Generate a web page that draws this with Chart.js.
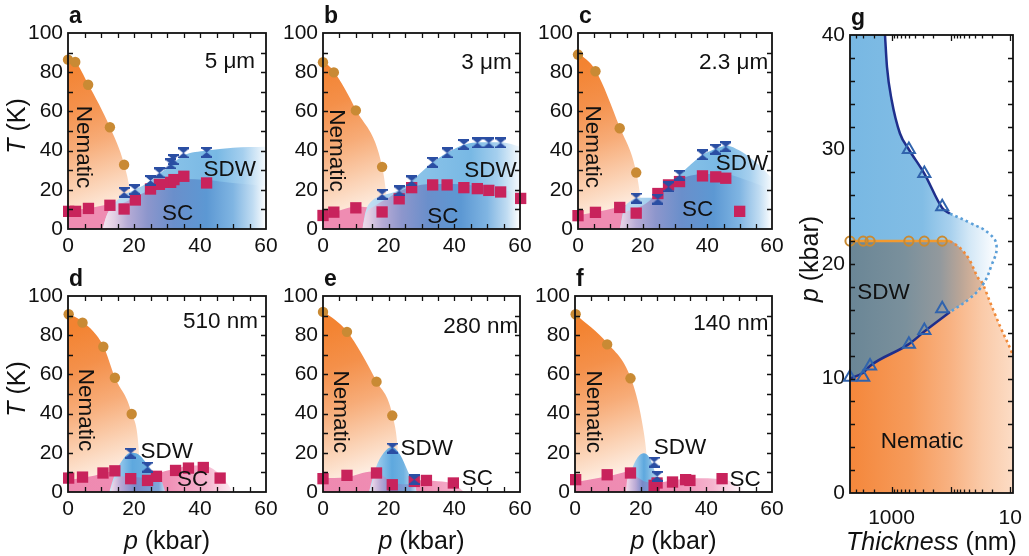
<!DOCTYPE html>
<html>
<head>
<meta charset="utf-8">
<title>Phase diagrams vs thickness</title>
<script src="https://cdn.jsdelivr.net/npm/chart.js@4.4.1/dist/chart.umd.min.js"></script>
<style>
  html, body { margin: 0; padding: 0; background: #fff; }
  body { position: relative; width: 1029px; height: 556px; overflow: hidden; }
  canvas { position: absolute; }
</style>
</head>
<body>
<canvas id="chartA"></canvas>
<canvas id="chartB"></canvas>
<canvas id="chartC"></canvas>
<canvas id="chartD"></canvas>
<canvas id="chartE"></canvas>
<canvas id="chartF"></canvas>
<canvas id="chartG"></canvas>
<script>
// ---------- data, [p (kbar), T (K)] ----------
// a: 5 um
const nemA = [[0, 86.4], [2.2, 85.2], [6.1, 73.6], [12.7, 51.9], [17.0, 32.8]];
const sdwA = [[17.0, 18.7], [20.3, 20.1], [25.0, 24.7], [27.7, 28.6], [31.1, 33.2], [31.9, 35.4], [35.0, 38.8], [42.0, 39.1]];
const scA = [[0.2, 9.0], [2.3, 9.0], [6.2, 10.5], [12.7, 12.1], [17.0, 10.2], [20.4, 14.8], [25.0, 20.4], [27.7, 22.8], [31.1, 23.8], [32.1, 25.2], [35.1, 26.9], [42.0, 23.5]];
const nemEdgeA = [[0, 87], [2.2, 85.5], [6.1, 74], [12.7, 52], [17, 33], [19, 17], [20, 0]];
const scEdgeA = [[0, 9.5], [6, 10.5], [12, 12.5], [16, 14], [20, 15.5]];
const sdwEdgeA = [[10.5, 0], [12, 8], [14, 13], [17, 17.5], [20, 19.8], [25, 24.5], [27.7, 28], [31, 32.5], [35, 37.5], [42, 40], [50, 41.5], [60, 42]];
const ovlEdgeA = [[10.5, 0], [11.5, 6], [13.5, 11.5], [17, 13.5], [20, 16], [25, 20], [30, 23], [35, 25.5], [42, 25], [50, 23.5], [60, 22]];

// b: 3 um
const nemB = [[0, 85.1], [3.3, 79.9], [10.0, 60.5], [18.0, 31.7]];
const sdwB = [[18.0, 17.7], [23.2, 19.4], [27.0, 24.5], [33.4, 34.0], [37.8, 38.8], [42.9, 43.1], [47.0, 43.9], [50.5, 43.9], [54.1, 43.9]];
const scB = [[0, 6.9], [3.3, 8.6], [10.0, 10.8], [18.0, 8.7], [23.2, 15.4], [27.0, 21.1], [33.4, 22.5], [37.8, 22.5], [42.9, 21.1], [47.0, 20.6], [50.5, 19.7], [54.1, 18.9], [60.2, 15.6]];
const nemEdgeB = [[0, 86], [3.3, 80.5], [10, 61], [18, 32], [19.5, 15], [20.5, 0]];
const scEdgeB = [[0, 7.5], [5, 9.5], [10, 11.5], [14, 11], [20, 10]];
const sdwEdgeB = [[12, 0], [13, 9], [15, 14.5], [18, 17], [23.2, 19.8], [27, 24.5], [33.4, 34], [37.8, 38.8], [43, 43], [48, 44.2], [54, 44.2], [60, 42]];
const ovlEdgeB = [[12, 0], [13, 7], [16, 12], [20, 16], [23, 19], [27, 21.5], [33, 23], [40, 23], [47, 22], [53, 20.5], [60, 18]];

// c: 2.3 um
const nemC = [[0, 89], [5.4, 80.5], [12.9, 51.4], [18.0, 28.8]];
const sdwC = [[18.0, 15.8], [24.7, 15.3], [28.0, 21.5], [31.4, 27.5], [38.5, 37.8], [42.6, 40.7], [45.7, 41.9]];
const scC = [[0, 6.8], [5.4, 8.5], [12.9, 11.0], [18.0, 8.1], [24.7, 18.1], [28.0, 22.5], [31.4, 24.2], [38.5, 27.1], [42.6, 26.6], [45.7, 25.9], [50.0, 9.0]];
const nemEdgeC = [[0, 90], [5.4, 81], [12.9, 52], [18, 29.5], [19.5, 14], [20.5, 0]];
const scEdgeC = [[0, 7], [5.4, 8.5], [12, 11], [16, 12.5], [20, 13]];
const sdwEdgeC = [[13, 0], [14, 9], [16, 14], [19, 16], [22, 16], [24.7, 16.5], [28, 21.5], [31.4, 27.5], [38.5, 37.8], [42.6, 41], [46, 42.5], [50, 40], [55, 34], [60, 26]];
const ovlEdgeC = [[13, 0], [14, 7], [17, 10], [21, 13], [24.7, 18.5], [28, 23], [31.4, 25.5], [38.5, 28], [45, 28], [52, 25], [60, 20]];

// d: 510 nm
const nemD = [[0.2, 90.7], [4.4, 86.4], [10.7, 74.1], [14.2, 58.3], [19.3, 39.8]];
const sdwD = [[19.0, 19.8], [24.1, 12.7]];
const scD = [[0.2, 7.1], [4.4, 7.6], [10.6, 9.7], [14.2, 10.8], [19.0, 6.8], [24.1, 5.9], [26.8, 8.0], [32.6, 11.0], [36.5, 12.2], [41.0, 12.5], [46.1, 7.1]];
const nemEdgeD = [[0, 91], [4.4, 87], [10.7, 74.5], [14.2, 58.5], [19.3, 40], [21.5, 20], [22, 0]];
const scEdgeD = [[0, 6], [7, 8], [14, 10.5], [17, 9.5], [21, 8], [25, 8], [28, 10], [33, 12], [37, 13.5], [41, 13.5], [45, 10.5], [48, 5], [50, 0]];
const sdwEdgeD = [[12.5, 0], [14, 8], [16, 15], [19, 20], [21.5, 19], [24.5, 13], [27, 7], [29, 0]];
const ovlEdgeD = [[13, 0], [14, 6], [17, 8], [21, 7.5], [25, 7], [28, 6.5], [29.5, 0]];

// e: 280 nm
const nemE = [[0, 91.9], [7.3, 81.7], [16.3, 56.3], [21.1, 39.0]];
const sdwE = [[21.1, 22.4], [27.8, 6.3]];
const scE = [[0, 6.8], [7.3, 8.5], [16.3, 9.7], [21.1, 3.7], [27.8, 5.4], [31.5, 5.9], [39.7, 4.6]];
const nemEdgeE = [[0, 92.5], [7.3, 82], [16.3, 56.5], [21.1, 39.5], [23, 18], [23.5, 0]];
const scEdgeE = [[0, 7], [7, 7.5], [15, 10.5], [18, 9], [22, 6], [28, 6], [35, 5.5], [40, 4], [43, 0]];
const sdwEdgeE = [[14, 0], [16, 12], [18.5, 20], [21, 23], [23.5, 19], [26, 10], [28, 3], [28.5, 0]];
const ovlEdgeE = [[14.5, 0], [15.5, 7], [17, 9], [21, 5], [25, 4], [28, 4], [28.5, 0]];

// f: 140 nm
const nemF = [[0.2, 90.7], [9.8, 75.3], [16.9, 58.0]];
const sdwF = [[24.1, 15.3], [25.0, 8.0]];
const scF = [[0.2, 6.3], [9.8, 8.8], [16.9, 9.7], [24.1, 3.4], [25.0, 4.6], [29.7, 5.1], [33.7, 6.3], [35.0, 5.9], [44.8, 6.8]];
const nemEdgeF = [[0, 91], [9.8, 76], [16.9, 58.5], [20.5, 35], [22, 15], [22.5, 0]];
const scEdgeF = [[0, 5], [10, 8], [17, 10.5], [20, 7], [24, 4.5], [30, 6], [36, 7], [45, 6.5], [50, 3], [52, 0]];
const sdwEdgeF = [[15.5, 0], [17, 10], [19, 17.5], [21, 19.8], [22.5, 18], [24, 12], [25, 6], [26, 0]];
const ovlEdgeF = [[15.5, 0], [16, 7], [18, 8], [21, 5.5], [24, 4], [26, 0]];

// g: thickness (nm) vs p (kbar)
const thickness = [5000, 3000, 2300, 510, 280, 140];
const pNematic = [22, 22, 22, 22, 22, 22];
const pSdwLow = [10.1, 10.1, 11.1, 13.0, 14.2, 16.1];
const thicknessHigh = [510, 280, 140];
const pSdwHigh = [30.0, 27.9, 25.0];
const sdwTopLine = [[1288, 40], [1191, 37.2], [993, 34.3], [720, 31.4], [510, 30], [280, 27.9], [140, 24.9], [104, 24.4]];
const sdwLowLine = [[5000, 10], [3000, 10.5], [2300, 11.1], [510, 13], [280, 14.1], [104, 15.8]];
const sdwNose = [[104, 24.4], [48, 23.6], [22, 22.6], [17, 21.5], [21, 19.8], [29, 18.2], [48, 17], [104, 15.8]];
const nemLine = [[5000, 22], [104, 22]];
const nemTail = [[104, 22], [70, 21.4], [48, 20.3], [35, 18.8], [30, 18.4], [22, 16.7], [15, 14.6], [10, 12.6], [9, 12]];

// ---------- helpers ----------
const FONT = "'Liberation Sans', Arial, Helvetica, sans-serif";
const INK = '#111111';
const NONE = 'rgba(0,0,0,0)';

const toXY = arr => arr.map(([x, y]) => ({x, y}));
const zipXY = (xs, ys) => xs.map((x, i) => ({x, y: ys[i]}));

// horizontal gradient, stops given at x data values
function hGrad(stops) {
  return c => {
    const chart = c.chart;
    if (!chart.chartArea) return stops[0][1];
    const sx = chart.scales.x;
    const x0 = sx.getPixelForValue(stops[0][0]);
    const x1 = sx.getPixelForValue(stops[stops.length - 1][0]);
    const g = chart.ctx.createLinearGradient(x0, 0, x1, 0);
    for (const [v, col] of stops) {
      const f = (sx.getPixelForValue(v) - x0) / (x1 - x0);
      g.addColorStop(Math.min(1, Math.max(0, f)), col);
    }
    return g;
  };
}

// gradient between two data points
function dGrad(from, to, stops) {
  return c => {
    const chart = c.chart;
    if (!chart.chartArea) return stops[0][1];
    const {x: sx, y: sy} = chart.scales;
    const g = chart.ctx.createLinearGradient(
      sx.getPixelForValue(from[0]), sy.getPixelForValue(from[1]),
      sx.getPixelForValue(to[0]), sy.getPixelForValue(to[1]));
    stops.forEach(([f, col]) => g.addColorStop(f, col));
    return g;
  };
}

function hourglass(color) {
  const c = document.createElement('canvas');
  c.width = 11; c.height = 11;
  const g = c.getContext('2d');
  g.fillStyle = color;
  g.fillRect(0, 0, 11, 2);
  g.fillRect(0, 9, 11, 2);
  g.beginPath(); g.moveTo(1, 2); g.lineTo(10, 2); g.lineTo(5.5, 5.8); g.closePath(); g.fill();
  g.beginPath(); g.moveTo(1, 9); g.lineTo(10, 9); g.lineTo(5.5, 5.2); g.closePath(); g.fill();
  return c;
}
const HOURGLASS = hourglass('#2a4ea3');

function region(edge, color, order) {
  return {data: toXY(edge), fill: 'origin', backgroundColor: color, borderWidth: 0, borderColor: NONE,
          pointRadius: 0, cubicInterpolationMode: 'monotone', order};
}
function marks(points, style, order) {
  return Object.assign({data: points, showLine: false, pointBorderWidth: 0, pointBorderColor: NONE,
                        backgroundColor: NONE, borderColor: NONE, clip: false, order}, style);
}

function linTicks(min, max, step, len) {
  const out = [];
  for (let v = min + step; v < max - 1e-9; v += step) out.push([v, len]);
  return out;
}
function logTicks(min, max) {
  const out = [];
  for (let d = 1; d <= max; d *= 10) {
    for (let k = 1; k <= 9; k++) {
      const v = k * d;
      if (v > min && v < max) out.push([v, k === 1 ? 6 : 3.5]);
    }
  }
  return out;
}

function drawRich(ctx, parts, size, x, y) {
  const fonts = parts.map(([, it]) => (it ? 'italic ' : '') + size + 'px ' + FONT);
  const widths = parts.map(([s], i) => { ctx.font = fonts[i]; return ctx.measureText(s).width; });
  let cx = x - widths.reduce((a, b) => a + b, 0) / 2;
  ctx.textAlign = 'left';
  parts.forEach(([s], i) => { ctx.font = fonts[i]; ctx.fillText(s, cx, y); cx += widths[i]; });
}

// frame with inward ticks, titles, panel letter and labels
function decoPlugin(o) {
  return {
    id: 'deco',
    afterDraw(chart) {
      const {ctx, chartArea: a} = chart;
      const sx = chart.scales.x, sy = chart.scales.y;
      ctx.save();
      ctx.strokeStyle = INK;
      ctx.lineWidth = 1.3;
      ctx.beginPath();
      for (const [v, len] of o.xTicks) {
        const px = Math.round(sx.getPixelForValue(v)) + 0.5;
        ctx.moveTo(px, a.bottom); ctx.lineTo(px, a.bottom - len);
        ctx.moveTo(px, a.top); ctx.lineTo(px, a.top + len);
      }
      for (const [v, len] of o.yTicks) {
        const py = Math.round(sy.getPixelForValue(v)) + 0.5;
        ctx.moveTo(a.left, py); ctx.lineTo(a.left + len, py);
        ctx.moveTo(a.right, py); ctx.lineTo(a.right - len, py);
      }
      ctx.stroke();
      ctx.lineWidth = 1.8;
      ctx.strokeRect(a.left, a.top, a.right - a.left, a.bottom - a.top);

      ctx.fillStyle = INK;
      ctx.textBaseline = 'middle';
      ctx.font = '22.5px ' + FONT;
      for (const t of o.texts) {
        ctx.save();
        ctx.translate(sx.getPixelForValue(t.x), sy.getPixelForValue(t.y));
        if (t.rot) ctx.rotate(Math.PI / 2);
        ctx.textAlign = t.align || 'center';
        ctx.fillText(t.t, 0, 0);
        ctx.restore();
      }

      ctx.textBaseline = 'alphabetic';
      ctx.textAlign = 'left';
      ctx.font = 'bold 23px ' + FONT;
      ctx.fillText(o.letter, a.left + 1, a.top - 10);

      if (o.xTitle) drawRich(ctx, o.xTitle, 25, (a.left + a.right) / 2, a.bottom + 57);
      if (o.yTitle) {
        ctx.save();
        ctx.translate(a.left - o.yTitleDx, (a.top + a.bottom) / 2 - 5);
        ctx.rotate(-Math.PI / 2);
        ctx.textBaseline = 'middle';
        drawRich(ctx, o.yTitle, 25, 0, 0);
        ctx.restore();
      }
      ctx.restore();
    }
  };
}

function placeCanvas(id, box) {
  const cv = document.getElementById(id);
  cv.width = box.R - box.L + 68 + 16;
  cv.height = box.B - box.T + box.padT + 64;
  cv.style.width = cv.width + 'px';
  cv.style.height = cv.height + 'px';
  cv.style.left = (box.L - 68) + 'px';
  cv.style.top = (box.T - box.padT) + 'px';
  return cv;
}

function fixWidth(w) { return s => { s.width = w; s.paddingLeft = s.paddingRight = s.paddingTop = s.paddingBottom = 0; }; }
function fixHeight(h) { return s => { s.height = h; s.paddingLeft = s.paddingRight = s.paddingTop = s.paddingBottom = 0; }; }

const tickFont = {family: FONT, size: 21};

// ---------- panels a-f ----------
const NEM_FILL = dGrad([1, 84], [17, 6], [[0, '#f38331'], [0.25, '#f4904a'], [0.5, '#f7ac78'], [0.75, '#fbd3b6'], [1, '#fff8f3']]);
const PINK = '#ef8cb2';
const PINK_FADE = hGrad([[0, '#ee89b0'], [30, '#f08fb5'], [42, '#f5b5cf'], [52, '#ffffff']]);
const SDW_WIDE = hGrad([[10, '#d3e6f5'], [18, '#b2d6f0'], [28, '#8cc4e9'], [45, '#78b8e4'], [53, '#a5cfee'], [60, '#f6fafd']]);
const OVL_WIDE = hGrad([[10.5, '#f6e6ef'], [14, '#e2cfe4'], [18, '#b7acd6'], [24, '#8d96cc'], [32, '#6a8fcb'], [42, '#5c98d3'], [50, '#80b5e2'], [56, '#c0dcf2'], [60, '#ffffff']]);
function domeFill(l, c, r) {
  return hGrad([[l, '#d8e9f6'], [l + 3.5, '#8ec4ea'], [c, '#5ea8de'], [r - 4, '#70b2e1'], [r, '#cfe4f5']]);
}
function domeOverlap(l, c, r) {
  return hGrad([[l, '#f3dcea'], [l + 3, '#b9a9d5'], [c, '#7889c8'], [r - 2, '#7fa7da'], [r, '#c9dff2']]);
}

function phasePanel(id, box, d) {
  const cv = placeCanvas(id, box);
  const datasets = [
    region(d.nemEdge, NEM_FILL, 10),
    region(d.scEdge, d.pink, 9),
    region(d.sdwEdge, d.sdwFill, 8),
    region(d.ovlEdge, d.ovlFill, 7),
    marks(toXY(d.nem), {pointStyle: 'circle', pointRadius: 5.2, pointBackgroundColor: '#c98a34'}, 3),
    marks(toXY(d.sc), {pointStyle: 'rect', pointRadius: 8, pointBackgroundColor: '#c8235c'}, 2),
    marks(toXY(d.sdw), {pointStyle: HOURGLASS, pointRadius: 6}, 1)
  ];
  return new Chart(cv, {
    type: 'line',
    data: {datasets},
    options: {
      responsive: false, animation: false, events: [],
      layout: {autoPadding: false, padding: {top: box.padT, right: 16, left: 0, bottom: 0}},
      plugins: {legend: {display: false}, tooltip: {enabled: false}},
      scales: {
        x: {type: 'linear', min: 0, max: 60,
            ticks: {stepSize: 20, padding: 5, font: tickFont, color: INK, maxRotation: 0},
            grid: {display: false, drawTicks: false}, border: {display: false}, afterFit: fixHeight(64)},
        y: {type: 'linear', min: 0, max: 100,
            ticks: {stepSize: 20, padding: 5, font: tickFont, color: INK},
            grid: {display: false, drawTicks: false}, border: {display: false}, afterFit: fixWidth(68)}
      }
    },
    plugins: [decoPlugin({
      letter: d.letter,
      xTicks: linTicks(0, 60, 5, 5),
      yTicks: linTicks(0, 100, 10, 5),
      texts: d.texts,
      xTitle: d.xTitle ? [['p', true], [' (kbar)', false]] : null,
      yTitle: d.yTitle ? [['T', true], [' (K)', false]] : null,
      yTitleDx: 50
    })]
  });
}

phasePanel('chartA', {L: 68, T: 33, R: 266, B: 229, padT: 33}, {
  letter: 'a', nem: nemA, sdw: sdwA, sc: scA,
  nemEdge: nemEdgeA, scEdge: scEdgeA, sdwEdge: sdwEdgeA, ovlEdge: ovlEdgeA,
  pink: PINK, sdwFill: SDW_WIDE, ovlFill: OVL_WIDE, yTitle: true, xTitle: false,
  texts: [{t: '5 μm', x: 56.7, y: 85.2, align: 'right'}, {t: 'Nematic', x: 4.6, y: 41.8, rot: true},
          {t: 'SDW', x: 49, y: 30}, {t: 'SC', x: 33.2, y: 8}]
});
phasePanel('chartB', {L: 323, T: 33, R: 520, B: 229, padT: 33}, {
  letter: 'b', nem: nemB, sdw: sdwB, sc: scB,
  nemEdge: nemEdgeB, scEdge: scEdgeB, sdwEdge: sdwEdgeB, ovlEdge: ovlEdgeB,
  pink: PINK, sdwFill: SDW_WIDE, ovlFill: OVL_WIDE, yTitle: false, xTitle: false,
  texts: [{t: '3 μm', x: 57.5, y: 84.7, align: 'right'}, {t: 'Nematic', x: 4, y: 40, rot: true},
          {t: 'SDW', x: 51, y: 29.7}, {t: 'SC', x: 36.5, y: 6.3}]
});
phasePanel('chartC', {L: 578, T: 33, R: 772, B: 229, padT: 33}, {
  letter: 'c', nem: nemC, sdw: sdwC, sc: scC,
  nemEdge: nemEdgeC, scEdge: scEdgeC, sdwEdge: sdwEdgeC, ovlEdge: ovlEdgeC,
  pink: PINK, sdwFill: SDW_WIDE, ovlFill: OVL_WIDE, yTitle: false, xTitle: false,
  texts: [{t: '2.3 μm', x: 58.8, y: 84.7, align: 'right'}, {t: 'Nematic', x: 4.5, y: 42, rot: true},
          {t: 'SDW', x: 50.7, y: 33.5}, {t: 'SC', x: 37, y: 9.7}]
});
phasePanel('chartD', {L: 68, T: 296, R: 266, B: 492, padT: 33}, {
  letter: 'd', nem: nemD, sdw: sdwD, sc: scD,
  nemEdge: nemEdgeD, scEdge: scEdgeD, sdwEdge: sdwEdgeD, ovlEdge: ovlEdgeD,
  pink: PINK_FADE, sdwFill: domeFill(12.5, 19.5, 29), ovlFill: domeOverlap(13, 20.5, 29.5), yTitle: true, xTitle: true,
  texts: [{t: '510 nm', x: 57.6, y: 86.9, align: 'right'}, {t: 'Nematic', x: 5.2, y: 41.8, rot: true},
          {t: 'SDW', x: 29.9, y: 20.6}, {t: 'SC', x: 37.8, y: 6.1}]
});
phasePanel('chartE', {L: 323, T: 296, R: 520, B: 492, padT: 33}, {
  letter: 'e', nem: nemE, sdw: sdwE, sc: scE,
  nemEdge: nemEdgeE, scEdge: scEdgeE, sdwEdge: sdwEdgeE, ovlEdge: ovlEdgeE,
  pink: PINK_FADE, sdwFill: domeFill(14, 21, 28.5), ovlFill: domeOverlap(14.5, 21, 28.5), yTitle: false, xTitle: true,
  texts: [{t: '280 nm', x: 59.5, y: 84.3, align: 'right'}, {t: 'Nematic', x: 5.2, y: 41, rot: true},
          {t: 'SDW', x: 31.6, y: 21.8}, {t: 'SC', x: 47, y: 6.5}]
});
phasePanel('chartF', {L: 575, T: 296, R: 772, B: 492, padT: 33}, {
  letter: 'f', nem: nemF, sdw: sdwF, sc: scF,
  nemEdge: nemEdgeF, scEdge: scEdgeF, sdwEdge: sdwEdgeF, ovlEdge: ovlEdgeF,
  pink: PINK_FADE, sdwFill: domeFill(15.5, 21, 26), ovlFill: domeOverlap(15.5, 20.5, 26), yTitle: false, xTitle: true,
  texts: [{t: '140 nm', x: 58.9, y: 86, align: 'right'}, {t: 'Nematic', x: 5.4, y: 41, rot: true},
          {t: 'SDW', x: 32, y: 22.3}, {t: 'SC', x: 51.8, y: 6.1}]
});

// ---------- panel g ----------
(function () {
  const box = {L: 850, T: 35, R: 1013, B: 493, padT: 35};
  const cv = placeCanvas('chartG', box);
  const gNemEdge = nemLine.concat(nemTail.slice(1));
  const gTopEdge = [[5000, 46], [1320, 46]].concat(sdwTopLine, sdwNose.slice(1, 4));
  const gLowEdge = sdwLowLine.concat(sdwNose.slice(3).reverse().slice(1));
  const curve = {pointRadius: 0, fill: false, cubicInterpolationMode: 'monotone', backgroundColor: NONE};

  const datasets = [
    // 0: nematic area
    {data: toXY(gNemEdge), fill: 'origin', borderWidth: 0, borderColor: NONE, pointRadius: 0, cubicInterpolationMode: 'monotone', order: 15,
     backgroundColor: hGrad([[5000, '#f4873b'], [500, '#f69b5b'], [100, '#f8b282'], [30, '#facaa8'], [9, '#fcdcc5']])},
    // 1: lower SDW edge (fill target)
    {data: toXY(gLowEdge), fill: false, borderWidth: 0, borderColor: NONE, backgroundColor: NONE, pointRadius: 0, cubicInterpolationMode: 'monotone', order: 20},
    // 2: SDW area
    {data: toXY(gTopEdge), fill: {target: 1}, borderWidth: 0, borderColor: NONE, pointRadius: 0, cubicInterpolationMode: 'monotone', order: 14,
     backgroundColor: hGrad([[5000, '#78b8e3'], [300, '#82bde5'], [100, '#a9d1ee'], [50, '#d2e7f6'], [20, '#f8fbfe'], [9, '#ffffff']])},
    // 3: SDW + nematic coexistence
    {data: toXY(gNemEdge), fill: {target: 1, below: NONE}, borderWidth: 0, borderColor: NONE, pointRadius: 0, cubicInterpolationMode: 'monotone', order: 13,
     backgroundColor: hGrad([[5000, '#6a8696'], [600, '#7a909c'], [150, '#93999d'], [70, '#b9a597'], [40, '#d6b299'], [25, '#e6bea2']])},
    // boundary lines
    Object.assign({data: toXY(sdwTopLine), borderColor: '#1f2f8c', borderWidth: 2.5, order: 5}, curve),
    Object.assign({data: toXY(sdwLowLine), borderColor: '#1f2f8c', borderWidth: 2.5, order: 5}, curve),
    {data: toXY(sdwNose), borderColor: '#5b9fd8', borderWidth: 2.6, borderDash: [2.6, 3.2], tension: 0.45,
     pointRadius: 0, fill: false, backgroundColor: NONE, order: 5},
    {data: toXY(nemLine), borderColor: '#f39a2f', borderWidth: 2.5, pointRadius: 0, fill: false, backgroundColor: NONE, order: 5},
    Object.assign({data: toXY(nemTail), borderColor: '#f08a3a', borderWidth: 2.6, borderDash: [2.6, 3.2], order: 5}, curve),
    // markers
    marks(zipXY(thickness, pNematic), {pointStyle: 'circle', pointRadius: 4.6, pointBorderWidth: 2, pointBorderColor: '#c98a32', pointBackgroundColor: NONE}, 2),
    marks(zipXY(thickness, pSdwLow), {pointStyle: 'triangle', pointRadius: 7, pointBorderWidth: 2, pointBorderColor: '#3063ad', pointBackgroundColor: NONE}, 1),
    marks(zipXY(thicknessHigh, pSdwHigh), {pointStyle: 'triangle', pointRadius: 7, pointBorderWidth: 2, pointBorderColor: '#3063ad', pointBackgroundColor: NONE}, 1)
  ];

  new Chart(cv, {
    type: 'line',
    data: {datasets},
    options: {
      responsive: false, animation: false, events: [],
      layout: {autoPadding: false, padding: {top: box.padT, right: 16, left: 0, bottom: 0}},
      plugins: {legend: {display: false}, tooltip: {enabled: false}},
      scales: {
        x: {type: 'logarithmic', min: 9, max: 5000, reverse: true,
            ticks: {autoSkip: false, maxRotation: 0, padding: 13, font: tickFont, color: INK,
                    callback: v => (Math.abs(v - 1000) < 1e-6 || Math.abs(v - 10) < 1e-6) ? String(Math.round(v)) : ''},
            grid: {display: false, drawTicks: false}, border: {display: false}, afterFit: fixHeight(64)},
        y: {type: 'linear', min: 0, max: 40,
            ticks: {stepSize: 10, padding: 5, font: tickFont, color: INK},
            grid: {display: false, drawTicks: false}, border: {display: false}, afterFit: fixWidth(68)}
      }
    },
    plugins: [decoPlugin({
      letter: 'g',
      xTicks: logTicks(9, 5000),
      yTicks: linTicks(0, 40, 2, 5),
      texts: [{t: 'SDW', x: 1365, y: 17.5}, {t: 'Nematic', x: 307, y: 4.5}],
      xTitle: [['Thickness', true], [' (nm)', false]],
      yTitle: [['p', true], [' (kbar)', false]],
      yTitleDx: 39
    })]
  });
})();
</script>
</body>
</html>
